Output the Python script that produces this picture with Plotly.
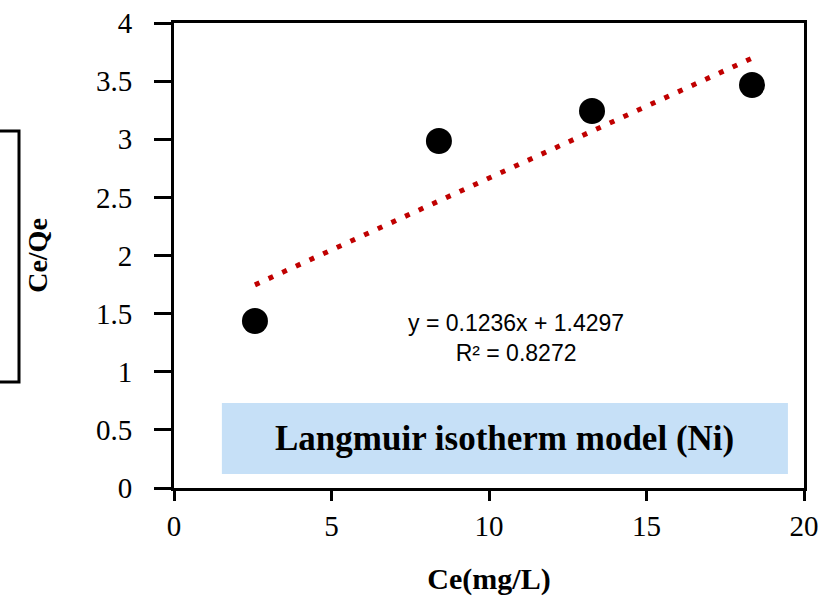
import plotly.graph_objects as go

# Data
ce = [2.57, 8.41, 13.27, 18.35]          # Ce (mg/L)
ce_qe = [1.437, 2.985, 3.243, 3.467]     # Ce/Qe
slope = 0.1236
intercept = 1.4297
r2 = 0.8272
x_ticks = [0, 5, 10, 15, 20]
y_ticks = [0, 0.5, 1, 1.5, 2, 2.5, 3, 3.5, 4]
y_tick_text = ["0", "0.5", "1", "1.5", "2", "2.5", "3", "3.5", "4"]

trend_x = [min(ce), max(ce)]
trend_y = [slope * v + intercept for v in trend_x]

fig = go.Figure()
fig.add_trace(go.Scatter(
    x=trend_x, y=trend_y, mode="lines",
    line=dict(color="#C00000", width=5, dash="5px,10px"),
    hoverinfo="skip", showlegend=False))
fig.add_trace(go.Scatter(
    x=ce, y=ce_qe, mode="markers",
    marker=dict(color="black", size=26, line=dict(width=0)),
    showlegend=False))

serif = "Liberation Serif, Times New Roman, serif"

# Light-blue label box
fig.add_shape(type="rect", xref="x", yref="y", x0=1.52, x1=19.49, y0=0.12, y1=0.731,
              fillcolor="#C6E0F7", line=dict(width=0), layer="below")
fig.add_annotation(x=10.5, y=0.425, xref="x", yref="y", showarrow=False,
                   text="<b>Langmuir isotherm model (Ni)</b>",
                   font=dict(family=serif, size=35, color="black"))

# Trendline equation
fig.add_annotation(x=10.85, y=1.29, xref="x", yref="y", showarrow=False, align="center",
                   text=f"y = {slope}x + {intercept}<br>R\u00b2 = {r2}",
                   font=dict(family="Liberation Sans, Arial, sans-serif", size=23, color="black"))

# Cropped box outline at the left edge
W, L, T, H = 630.0, 174.0, 23.0, 465.0
def px(xp):
    return (xp - L) / W
def py(yp):
    return (T + H - yp) / H
fig.add_shape(type="path", xref="paper", yref="paper",
              path=f"M {px(0)},{py(131)} L {px(19)},{py(131)} L {px(19)},{py(382)} L {px(0)},{py(382)}",
              line=dict(color="black", width=3))

fig.update_layout(
    width=838, height=602,
    margin=dict(l=174, r=34, t=23, b=114, autoexpand=False),
    paper_bgcolor="white", plot_bgcolor="white",
    font=dict(family=serif, color="black"),
    xaxis=dict(range=[0, 20], tickvals=x_ticks, showgrid=False, zeroline=False,
               showline=True, linecolor="black", linewidth=3, mirror=True,
               ticks="outside", ticklen=10, tickwidth=3, tickcolor="black",
               tickfont=dict(family=serif, size=29), ticklabelstandoff=0,
               ticklabeloverflow="allow", automargin=False,
               title=dict(text="<b>Ce(mg/L)</b>", font=dict(family=serif, size=30), standoff=28)),
    yaxis=dict(range=[0, 4], tickvals=y_ticks, ticktext=y_tick_text, showgrid=False, zeroline=False,
               showline=True, linecolor="black", linewidth=3, mirror=True,
               ticks="outside", ticklen=17, tickwidth=3, tickcolor="black",
               tickfont=dict(family=serif, size=29), ticklabelstandoff=16,
               ticklabeloverflow="allow", automargin=False,
               title=dict(text="<b>Ce/Qe</b>", font=dict(family=serif, size=28), standoff=41)),
)

fig.write_html(
    "out.html",
    config={"displayModeBar": False},
    post_script="document.body.style.margin='0';document.body.style.overflow='hidden';",
)
